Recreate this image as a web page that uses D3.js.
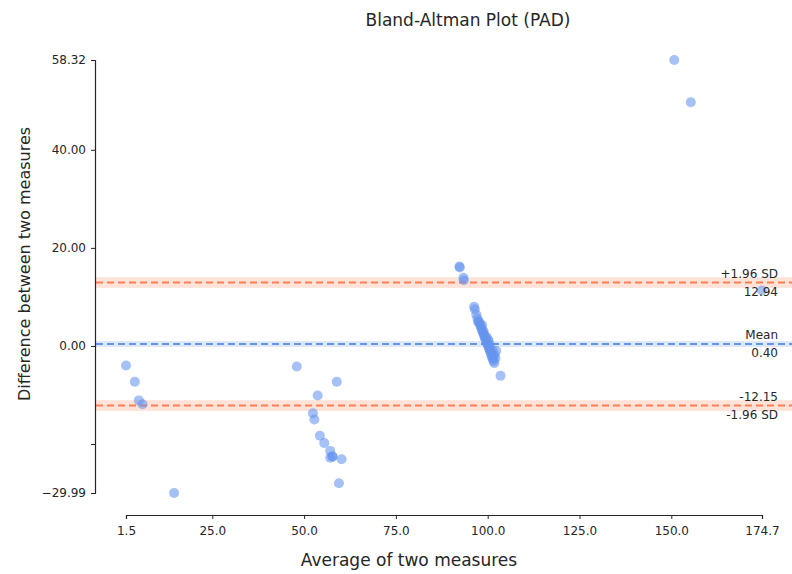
<!DOCTYPE html>
<html>
<head>
<meta charset="utf-8">
<script src="https://cdn.jsdelivr.net/npm/d3@7"></script>
<style>
  body { margin: 0; background: #fff; }
  svg { display: block; font-family: "DejaVu Sans", sans-serif; }
</style>
</head>
<body>
<svg id="chart" width="792" height="574"></svg>
<script>
// averages of the two measures (x) and their differences (y)
const avgValues = [
  1.5, 3.9, 5.0, 6.0, 14.6,
  48.0, 58.9, 53.7, 52.4, 52.8, 54.3, 55.5, 57.1, 57.1, 57.8, 57.7, 60.2, 59.5,
  92.3, 92.4, 93.4, 93.5,
  96.3, 96.5, 96.9, 97.2, 97.4, 97.6, 97.8, 98.0, 98.2, 98.4, 98.5, 98.6, 98.8,
  98.9, 99.0, 99.2, 99.3, 99.5, 99.6, 99.7, 99.9, 100.0, 100.1, 100.2, 100.3,
  100.4, 100.5, 100.6, 100.7, 100.9, 101.0, 101.2, 101.3, 101.4, 101.6, 101.6,
  101.8, 101.9, 102.1, 102.3,
  103.5,
  150.8, 155.3,
  174.7
]
const diffValues = [
  -4.0, -7.3, -11.1, -11.9, -29.99,
  -4.2, -7.3, -10.1, -13.7, -15.0, -18.3, -19.8, -21.4, -22.8, -22.6, -22.5, -23.1, -28.0,
  16.2, 16.0, 13.9, 13.4,
  8.0, 7.5, 6.4, 5.6, 4.9, 5.0, 4.6, 4.1, 3.8, 3.3, 4.2, 2.9, 2.6,
  3.0, 2.2, 1.8, 1.5, 1.2, 1.9, 0.8, 0.5, 0.2, 1.3, -0.1, 0.9,
  -0.5, -0.8, 0.1, -1.1, -1.5, -1.9, -2.3, -0.9, -2.7, -3.1, -2.0,
  -3.5, -1.8, -2.5, -1.0,
  -6.1,
  58.32, 49.7,
  11.3
]

const meanDiff = 0.40
const upperLoA = 12.94
const lowerLoA = -12.15
const loaBand = 1.1
const meanBand = 0.6

const xTickValues = [1.5, 25, 50, 75, 100, 125, 150, 174.7]
const yTickValues = [-29.99, -20, 0, 20, 40, 58.32]
const yTickLabels = ["\u221229.99", "", "0.00", "20.00", "40.00", "58.32"]

const svg = d3.select("#chart")
const textColor = "#262626"
const pointColor = "#6495ed"
const loaColor = "#ff7f50"

const x = d3.scaleLinear().domain([1.5, 174.7]).range([126, 762])
const y = d3.scaleLinear().domain([-29.99, 58.32]).range([493, 60])
const lineLeft = 96
const lineRight = 792

// bands around the limit lines
const bands = [
  {v: upperLoA, w: loaBand, fill: loaColor, op: 0.22},
  {v: meanDiff, w: meanBand, fill: pointColor, op: 0.22},
  {v: lowerLoA, w: loaBand, fill: loaColor, op: 0.22}
]
svg.append("g")
  .selectAll("rect")
  .data(bands)
  .join("rect")
  .attr("x", lineLeft)
  .attr("width", lineRight - lineLeft)
  .attr("y", d => y(d.v + d.w))
  .attr("height", d => y(d.v - d.w) - y(d.v + d.w))
  .attr("fill", d => d.fill)
  .attr("fill-opacity", d => d.op)

const lines = [
  {v: upperLoA, color: loaColor},
  {v: meanDiff, color: pointColor},
  {v: lowerLoA, color: loaColor}
]
svg.append("g")
  .selectAll("line")
  .data(lines)
  .join("line")
  .attr("x1", lineLeft)
  .attr("x2", lineRight)
  .attr("y1", d => y(d.v))
  .attr("y2", d => y(d.v))
  .attr("stroke", d => d.color)
  .attr("stroke-width", 2)
  .attr("stroke-dasharray", "7,4")

// scatter
svg.append("g")
  .selectAll("circle")
  .data(avgValues.map((a, i) => [a, diffValues[i]]))
  .join("circle")
  .attr("cx", d => x(d[0]))
  .attr("cy", d => y(d[1]))
  .attr("r", 5)
  .attr("fill", pointColor)
  .attr("fill-opacity", 0.58)

// axes, offset like seaborn's despine(trim=True)
const xAxis = svg.append("g")
  .attr("transform", "translate(0,515)")
  .call(d3.axisBottom(x).tickValues(xTickValues).tickFormat(d3.format(".1f")).tickSizeOuter(0).tickSize(4))
const yAxis = svg.append("g")
  .attr("transform", "translate(95,0)")
  .call(d3.axisLeft(y).tickValues(yTickValues).tickFormat((d, i) => yTickLabels[i]).tickSizeOuter(0).tickSize(4))

for (const ax of [xAxis, yAxis]) {
  ax.select(".domain").attr("stroke", textColor).attr("stroke-width", 1.2)
  ax.selectAll(".tick line").attr("stroke", textColor)
  ax.selectAll(".tick text")
    .attr("fill", textColor)
    .style("font-family", "DejaVu Sans")
    .style("font-size", "12px")
}
xAxis.selectAll(".tick text").attr("dy", "1.05em")
yAxis.selectAll(".tick text").attr("x", -9)

// limit labels on the right
const limitLabels = [
  {t: "+1.96 SD", v: upperLoA, dy: -5},
  {t: upperLoA.toFixed(2), v: upperLoA, dy: 13},
  {t: "Mean", v: meanDiff, dy: -5},
  {t: meanDiff.toFixed(2), v: meanDiff, dy: 13},
  {t: lowerLoA.toFixed(2), v: lowerLoA, dy: -5},
  {t: "-1.96 SD", v: lowerLoA, dy: 13}
]
svg.append("g")
  .selectAll("text")
  .data(limitLabels)
  .join("text")
  .attr("x", 778)
  .attr("y", d => y(d.v) + d.dy)
  .attr("text-anchor", "end")
  .attr("fill", textColor)
  .style("font-size", "12px")
  .text(d => d.t)

svg.append("text")
  .attr("x", 468)
  .attr("y", 26)
  .attr("text-anchor", "middle")
  .attr("fill", textColor)
  .style("font-size", "17px")
  .text("Bland-Altman Plot (PAD)")

svg.append("text")
  .attr("x", 409)
  .attr("y", 566)
  .attr("text-anchor", "middle")
  .attr("fill", textColor)
  .style("font-size", "17px")
  .text("Average of two measures")

svg.append("text")
  .attr("transform", "translate(30,264) rotate(-90)")
  .attr("text-anchor", "middle")
  .attr("fill", textColor)
  .style("font-size", "16px")
  .text("Difference between two measures")
</script>
</body>
</html>
